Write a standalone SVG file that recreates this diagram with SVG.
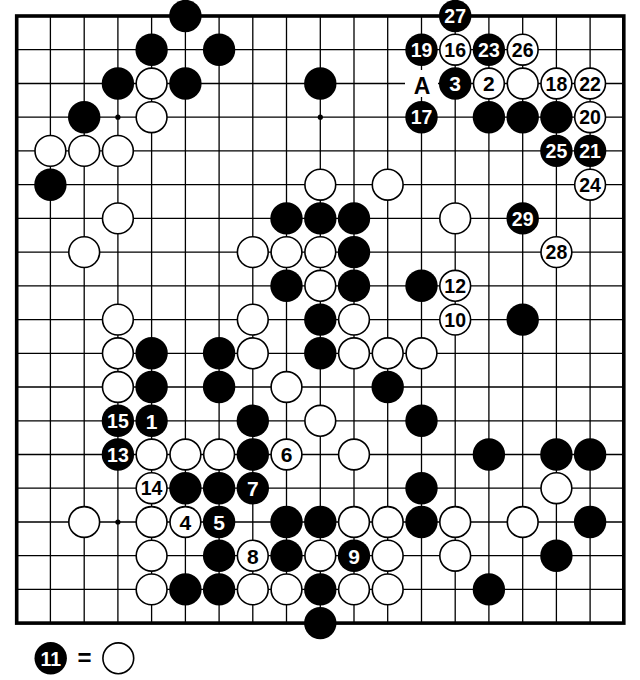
<svg xmlns="http://www.w3.org/2000/svg" width="640" height="680" viewBox="0 0 640 680">
<style>
.b{fill:#000;}
.w{fill:#fff;stroke:#000;stroke-width:1.6;}
text{font-family:"Liberation Sans",Arial,sans-serif;font-weight:bold;font-size:21px;text-anchor:middle;}
text.d2{font-size:19.5px;}
.tb{fill:#fff;}
.tw{fill:#000;}
.grid{stroke:#000;stroke-width:1.3;fill:none;}
.edge{stroke:#000;stroke-width:3.6;fill:none;}
</style>
<defs>
<circle id="B" r="16.2" class="b"/>
<circle id="W" r="15.4" class="w"/>
<circle id="H" r="2.6" fill="#000"/>
</defs>
<rect width="640" height="680" fill="#fff"/>
<g id="board">
<path class="grid" d="M50.4 16V623.1M84.2 16V623.1M117.9 16V623.1M151.6 16V623.1M185.4 16V623.1M219.1 16V623.1M252.8 16V623.1M286.5 16V623.1M320.3 16V623.1M354 16V623.1M387.7 16V623.1M421.5 16V623.1M455.2 16V623.1M488.9 16V623.1M522.7 16V623.1M556.4 16V623.1M590.1 16V623.1
M16.7 49.7H623.8M16.7 83.5H623.8M16.7 117.2H623.8M16.7 150.9H623.8M16.7 184.7H623.8M16.7 218.4H623.8M16.7 252.1H623.8M16.7 285.8H623.8M16.7 319.6H623.8M16.7 353.3H623.8M16.7 387H623.8M16.7 420.8H623.8M16.7 454.5H623.8M16.7 488.2H623.8M16.7 522H623.8M16.7 555.7H623.8M16.7 589.4H623.8"/>
<rect class="edge" x="16.7" y="16" width="607.1" height="607.1"/>
<use href="#H" x="117.9" y="117.2"/><use href="#H" x="320.3" y="117.2"/><use href="#H" x="522.7" y="117.2"/>
<use href="#H" x="117.9" y="319.6"/><use href="#H" x="320.3" y="319.6"/><use href="#H" x="522.7" y="319.6"/>
<use href="#H" x="117.9" y="522"/><use href="#H" x="320.3" y="522"/><use href="#H" x="522.7" y="522"/>
</g>
<g id="stones">
<!-- row 0 -->
<g id="s-5-0"><use href="#B" x="185.4" y="16"/></g>
<g id="m27"><use href="#B" x="455.2" y="16"/><text class="tb d2" x="455.2" y="23.2">27</text></g>
<!-- row 1 -->
<g id="s-4-1"><use href="#B" x="151.6" y="49.7"/></g>
<g id="s-6-1"><use href="#B" x="219.1" y="49.7"/></g>
<g id="m19"><use href="#B" x="421.5" y="49.7"/><text class="tb d2" x="421.5" y="56.9">19</text></g>
<g id="m16"><use href="#W" x="455.2" y="49.7"/><text class="tw d2" x="455.2" y="56.9">16</text></g>
<g id="m23"><use href="#B" x="488.9" y="49.7"/><text class="tb d2" x="488.9" y="56.9">23</text></g>
<g id="m26"><use href="#W" x="522.7" y="49.7"/><text class="tw d2" x="522.7" y="56.9">26</text></g>
<!-- row 2 -->
<g id="s-3-2"><use href="#B" x="117.9" y="83.5"/></g>
<g id="s-4-2"><use href="#W" x="151.6" y="83.5"/></g>
<g id="s-5-2"><use href="#B" x="185.4" y="83.5"/></g>
<g id="s-9-2"><use href="#B" x="320.3" y="83.5"/></g>
<g id="labelA"><rect x="405" y="70" width="33" height="27" fill="#fff"/><text class="tw" x="422" y="93.5" style="font-size:23px">A</text></g>
<g id="m3"><use href="#B" x="455.2" y="83.5"/><text class="tb" x="455.2" y="91.3">3</text></g>
<g id="m2"><use href="#W" x="488.9" y="83.5"/><text class="tw" x="488.9" y="91.3">2</text></g>
<g id="s-15-2"><use href="#W" x="522.7" y="83.5"/></g>
<g id="m18"><use href="#W" x="556.4" y="83.5"/><text class="tw d2" x="556.4" y="90.7">18</text></g>
<g id="m22"><use href="#W" x="590.1" y="83.5"/><text class="tw d2" x="590.1" y="90.7">22</text></g>
<!-- row 3 -->
<g id="s-2-3"><use href="#B" x="84.2" y="117.2"/></g>
<g id="s-4-3"><use href="#W" x="151.6" y="117.2"/></g>
<g id="m17"><use href="#B" x="421.5" y="117.2"/><text class="tb d2" x="421.5" y="124.4">17</text></g>
<g id="s-14-3"><use href="#B" x="488.9" y="117.2"/></g>
<g id="s-15-3"><use href="#B" x="522.7" y="117.2"/></g>
<g id="s-16-3"><use href="#B" x="556.4" y="117.2"/></g>
<g id="m20"><use href="#W" x="590.1" y="117.2"/><text class="tw d2" x="590.1" y="124.4">20</text></g>
<!-- row 4 -->
<g id="s-1-4"><use href="#W" x="50.4" y="150.9"/></g>
<g id="s-2-4"><use href="#W" x="84.2" y="150.9"/></g>
<g id="s-3-4"><use href="#W" x="117.9" y="150.9"/></g>
<g id="m25"><use href="#B" x="556.4" y="150.9"/><text class="tb d2" x="556.4" y="158.1">25</text></g>
<g id="m21"><use href="#B" x="590.1" y="150.9"/><text class="tb d2" x="590.1" y="158.1">21</text></g>
<!-- row 5 -->
<g id="s-1-5"><use href="#B" x="50.4" y="184.7"/></g>
<g id="s-9-5"><use href="#W" x="320.3" y="184.7"/></g>
<g id="s-11-5"><use href="#W" x="387.7" y="184.7"/></g>
<g id="m24"><use href="#W" x="590.1" y="184.7"/><text class="tw d2" x="590.1" y="191.9">24</text></g>
<!-- row 6 -->
<g id="s-3-6"><use href="#W" x="117.9" y="218.4"/></g>
<g id="s-8-6"><use href="#B" x="286.5" y="218.4"/></g>
<g id="s-9-6"><use href="#B" x="320.3" y="218.4"/></g>
<g id="s-10-6"><use href="#B" x="354" y="218.4"/></g>
<g id="s-13-6"><use href="#W" x="455.2" y="218.4"/></g>
<g id="m29"><use href="#B" x="522.7" y="218.4"/><text class="tb d2" x="522.7" y="225.6">29</text></g>
<!-- row 7 -->
<g id="s-2-7"><use href="#W" x="84.2" y="252.1"/></g>
<g id="s-7-7"><use href="#W" x="252.8" y="252.1"/></g>
<g id="s-8-7"><use href="#W" x="286.5" y="252.1"/></g>
<g id="s-9-7"><use href="#W" x="320.3" y="252.1"/></g>
<g id="s-10-7"><use href="#B" x="354" y="252.1"/></g>
<g id="m28"><use href="#W" x="556.4" y="252.1"/><text class="tw d2" x="556.4" y="259.3">28</text></g>
<!-- row 8 -->
<g id="s-8-8"><use href="#B" x="286.5" y="285.8"/></g>
<g id="s-9-8"><use href="#W" x="320.3" y="285.8"/></g>
<g id="s-10-8"><use href="#B" x="354" y="285.8"/></g>
<g id="s-12-8"><use href="#B" x="421.5" y="285.8"/></g>
<g id="m12"><use href="#W" x="455.2" y="285.8"/><text class="tw d2" x="455.2" y="293">12</text></g>
<!-- row 9 -->
<g id="s-3-9"><use href="#W" x="117.9" y="319.6"/></g>
<g id="s-7-9"><use href="#W" x="252.8" y="319.6"/></g>
<g id="s-9-9"><use href="#B" x="320.3" y="319.6"/></g>
<g id="s-10-9"><use href="#W" x="354" y="319.6"/></g>
<g id="m10"><use href="#W" x="455.2" y="319.6"/><text class="tw d2" x="455.2" y="326.8">10</text></g>
<g id="s-15-9"><use href="#B" x="522.7" y="319.6"/></g>
<!-- row 10 -->
<g id="s-3-10"><use href="#W" x="117.9" y="353.3"/></g>
<g id="s-4-10"><use href="#B" x="151.6" y="353.3"/></g>
<g id="s-6-10"><use href="#B" x="219.1" y="353.3"/></g>
<g id="s-7-10"><use href="#W" x="252.8" y="353.3"/></g>
<g id="s-9-10"><use href="#B" x="320.3" y="353.3"/></g>
<g id="s-10-10"><use href="#W" x="354" y="353.3"/></g>
<g id="s-11-10"><use href="#W" x="387.7" y="353.3"/></g>
<g id="s-12-10"><use href="#W" x="421.5" y="353.3"/></g>
<!-- row 11 -->
<g id="s-3-11"><use href="#W" x="117.9" y="387"/></g>
<g id="s-4-11"><use href="#B" x="151.6" y="387"/></g>
<g id="s-6-11"><use href="#B" x="219.1" y="387"/></g>
<g id="s-8-11"><use href="#W" x="286.5" y="387"/></g>
<g id="s-11-11"><use href="#B" x="387.7" y="387"/></g>
<!-- row 12 -->
<g id="m15"><use href="#B" x="117.9" y="420.8"/><text class="tb d2" x="117.9" y="428">15</text></g>
<g id="m1"><use href="#B" x="151.6" y="420.8"/><text class="tb" x="151.6" y="428.6">1</text></g>
<g id="s-7-12"><use href="#B" x="252.8" y="420.8"/></g>
<g id="s-9-12"><use href="#W" x="320.3" y="420.8"/></g>
<g id="s-12-12"><use href="#B" x="421.5" y="420.8"/></g>
<!-- row 13 -->
<g id="m13"><use href="#B" x="117.9" y="454.5"/><text class="tb d2" x="117.9" y="461.7">13</text></g>
<g id="s-4-13"><use href="#W" x="151.6" y="454.5"/></g>
<g id="s-5-13"><use href="#W" x="185.4" y="454.5"/></g>
<g id="s-6-13"><use href="#W" x="219.1" y="454.5"/></g>
<g id="s-7-13"><use href="#B" x="252.8" y="454.5"/></g>
<g id="m6"><use href="#W" x="286.5" y="454.5"/><text class="tw" x="286.5" y="462.3">6</text></g>
<g id="s-10-13"><use href="#W" x="354" y="454.5"/></g>
<g id="s-14-13"><use href="#B" x="488.9" y="454.5"/></g>
<g id="s-16-13"><use href="#B" x="556.4" y="454.5"/></g>
<g id="s-17-13"><use href="#B" x="590.1" y="454.5"/></g>
<!-- row 14 -->
<g id="m14"><use href="#W" x="151.6" y="488.2"/><text class="tw d2" x="151.6" y="495.4">14</text></g>
<g id="s-5-14"><use href="#B" x="185.4" y="488.2"/></g>
<g id="s-6-14"><use href="#B" x="219.1" y="488.2"/></g>
<g id="m7"><use href="#B" x="252.8" y="488.2"/><text class="tb" x="252.8" y="496">7</text></g>
<g id="s-12-14"><use href="#B" x="421.5" y="488.2"/></g>
<g id="s-16-14"><use href="#W" x="556.4" y="488.2"/></g>
<!-- row 15 -->
<g id="s-2-15"><use href="#W" x="84.2" y="522"/></g>
<g id="s-4-15"><use href="#W" x="151.6" y="522"/></g>
<g id="m4"><use href="#W" x="185.4" y="522"/><text class="tw" x="185.4" y="529.8">4</text></g>
<g id="m5"><use href="#B" x="219.1" y="522"/><text class="tb" x="219.1" y="529.8">5</text></g>
<g id="s-8-15"><use href="#B" x="286.5" y="522"/></g>
<g id="s-9-15"><use href="#B" x="320.3" y="522"/></g>
<g id="s-10-15"><use href="#W" x="354" y="522"/></g>
<g id="s-11-15"><use href="#W" x="387.7" y="522"/></g>
<g id="s-12-15"><use href="#B" x="421.5" y="522"/></g>
<g id="s-13-15"><use href="#W" x="455.2" y="522"/></g>
<g id="s-15-15"><use href="#W" x="522.7" y="522"/></g>
<g id="s-17-15"><use href="#B" x="590.1" y="522"/></g>
<!-- row 16 -->
<g id="s-4-16"><use href="#W" x="151.6" y="555.7"/></g>
<g id="s-6-16"><use href="#B" x="219.1" y="555.7"/></g>
<g id="m8"><use href="#W" x="252.8" y="555.7"/><text class="tw" x="252.8" y="563.5">8</text></g>
<g id="s-8-16"><use href="#B" x="286.5" y="555.7"/></g>
<g id="s-9-16"><use href="#W" x="320.3" y="555.7"/></g>
<g id="m9"><use href="#B" x="354" y="555.7"/><text class="tb" x="354" y="563.5">9</text></g>
<g id="s-11-16"><use href="#W" x="387.7" y="555.7"/></g>
<g id="s-13-16"><use href="#W" x="455.2" y="555.7"/></g>
<g id="s-16-16"><use href="#B" x="556.4" y="555.7"/></g>
<!-- row 17 -->
<g id="s-4-17"><use href="#W" x="151.6" y="589.4"/></g>
<g id="s-5-17"><use href="#B" x="185.4" y="589.4"/></g>
<g id="s-6-17"><use href="#B" x="219.1" y="589.4"/></g>
<g id="s-7-17"><use href="#W" x="252.8" y="589.4"/></g>
<g id="s-8-17"><use href="#W" x="286.5" y="589.4"/></g>
<g id="s-9-17"><use href="#B" x="320.3" y="589.4"/></g>
<g id="s-10-17"><use href="#W" x="354" y="589.4"/></g>
<g id="s-11-17"><use href="#W" x="387.7" y="589.4"/></g>
<g id="s-14-17"><use href="#B" x="488.9" y="589.4"/></g>
<!-- row 18 -->
<g id="s-9-18"><use href="#B" x="320.3" y="623.1"/></g>
</g>
<g id="legend">
<g id="m11"><use href="#B" x="50.7" y="658.3"/><text class="tb d2" x="50.7" y="665.5">11</text></g>
<text class="tw" x="84.5" y="666" style="font-size:24px">=</text>
<g id="legend-white"><use href="#W" x="118.3" y="658.3"/></g>
</g>
</svg>
